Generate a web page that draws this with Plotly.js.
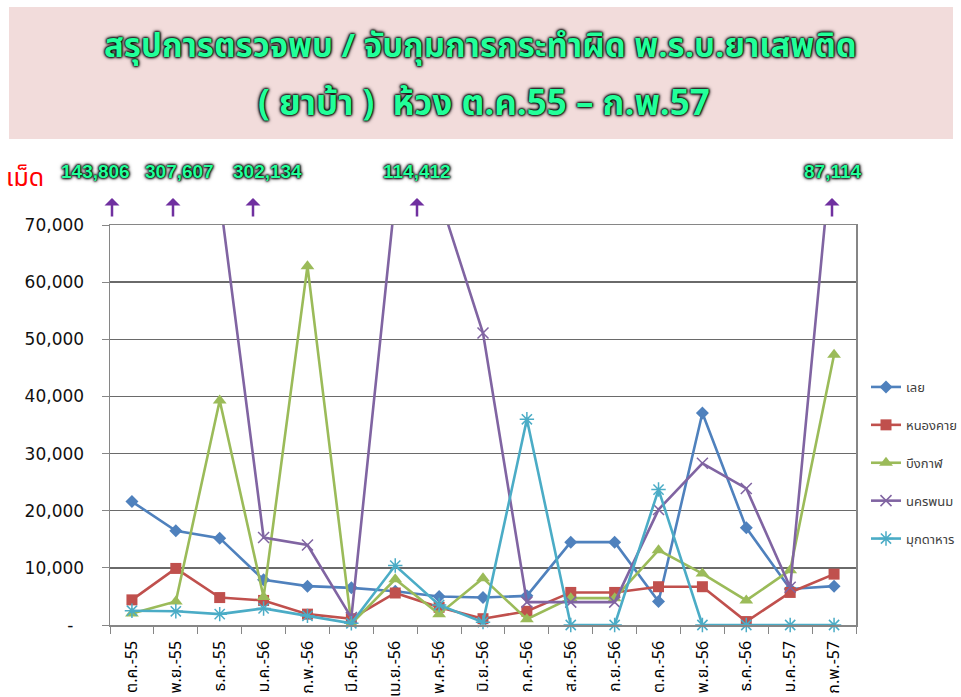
<!DOCTYPE html>
<html>
<head>
<meta charset="utf-8">
<script src="https://cdn.plot.ly/plotly-3.0.1.min.js"></script>
<style>
html,body{margin:0;padding:0;background:#fff;overflow:hidden;}
#chart{width:961px;height:697px;}
</style>
</head>
<body>
<div id="chart"></div>
<script>
// ---------- data ----------
const months = ['ต.ค.-55','พ.ย.-55','ธ.ค.-55','ม.ค.-56','ก.พ.-56','มี.ค.-56','เม.ย.-56','พ.ค.-56','มิ.ย.-56','ก.ค.-56','ส.ค.-56','ก.ย.-56','ต.ค.-56','พ.ย.-56','ธ.ค.-56','ม.ค.-57','ก.พ.-57'];
const seriesNames = ['เลย','หนองคาย','บึงกาฬ','นครพนม','มุกดาหาร'];
const loei      = [21600,16500,15200,7900,6800,6500,5900,5000,4800,5100,14500,14500,4100,37100,17000,6300,6800];
const nongkhai  = [4400,9900,4800,4300,1900,1100,5600,3100,1100,2400,5700,5700,6700,6700,600,5700,8900];
const buengkan  = [2000,4100,39300,4900,62800,200,8000,1900,8200,1000,4700,4700,13100,9000,4300,9600,47300];
const nakhonphanom = [75000,75000,75000,15300,14000,1300,75000,75000,51100,4000,4000,4000,20200,28300,23900,6600,87114];
const mukdahan  = [2500,2400,1900,2900,1600,300,10400,3500,500,36000,0,0,23700,0,0,0,0];
const yTickVals = [0,10000,20000,30000,40000,50000,60000,70000];
const yTickText = ['-\u00a0\u00a0','10,000','20,000','30,000','40,000','50,000','60,000','70,000'];
const bigLabels = ['143,806','307,607','302,134','114,412','87,114'];
const titleLine1 = 'สรุปการตรวจพบ / จับกุมการกระทำผิด พ.ร.บ.ยาเสพติด';
const titleLine2 = '( ยาบ้า )  ห้วง ต.ค.55 – ก.พ.57';
const unitLabel = 'เม็ด';

// ---------- styling ----------
const colors = ['#4f81bd','#c0504d','#9bbb59','#8064a2','#4bacc6'];
const values = [loei, nongkhai, buengkan, nakhonphanom, mukdahan];
const markers = [
  {symbol:'diamond', size:10},
  {symbol:'square', size:11},
  {symbol:'triangle-up', size:12},
  {symbol:'x-thin-open', size:11, line:{width:1.5, color:'#a08cc0'}},
  {symbol:'asterisk-open', size:12, line:{width:1.5, color:'#7ccbe0'}}
];
const thaiFont = 'Tahoma, "Noto Sans Thai", "Noto Sans", "DejaVu Sans", sans-serif';

const traces = values.map((v,i)=>({
  type:'scatter', mode:'lines+markers',
  x: months, y: v, name: seriesNames[i],
  legendgroup: 'g'+i,
  line:{color:colors[i], width:2.6},
  marker: Object.assign({color:colors[i]}, markers[i]),
  cliponaxis: i===3 ? true : false
}));

// paper-coordinate helpers (plot area: x 110..856, y 225..625)
const L=110, R=105, T=225, B=72, W=961-L-R, H=697-T-B;
const px = x => (x-L)/W;
const py = y => (697-B-y)/H;

const glow = '0 0 2px #000, 0 0 2px #000, 0 0 3px #000, 0 0 4px #000';
const labelX = [95,179,267,417,832];
const arrowX = [112,173,253,417,832];

const annotations = [];
annotations.push({xref:'paper', yref:'paper', x:px(480), y:py(47), text:titleLine1, showarrow:false,
  xanchor:'center', yanchor:'middle',
  font:{family:thaiFont, size:33, color:'#22ff99', weight:700, shadow:glow}});
annotations.push({xref:'paper', yref:'paper', x:px(484), y:py(104), text:titleLine2, showarrow:false,
  xanchor:'center', yanchor:'middle',
  font:{family:thaiFont, size:35, color:'#22ff99', weight:700, shadow:glow}});
annotations.push({xref:'paper', yref:'paper', x:px(4), y:py(178), text:unitLabel, showarrow:false,
  xanchor:'left', yanchor:'middle', font:{family:thaiFont, size:25, color:'#ff0000'}});
bigLabels.forEach((t,i)=>{
  annotations.push({xref:'paper', yref:'paper', x:px(labelX[i]), y:py(172), text:t, showarrow:false,
    xanchor:'center', yanchor:'middle',
    font:{family:'"Liberation Sans Narrow", "Arial Narrow", "Liberation Sans", sans-serif', size:19, color:'#22ff99', weight:700, shadow:glow}});
  annotations.push({xref:'paper', yref:'paper', x:px(arrowX[i]), y:py(198), text:'', showarrow:true,
    ax:0, ay:20, arrowhead:1, arrowsize:1, arrowwidth:2.5, arrowcolor:'#7030a0', standoff:0, startstandoff:0});
});

const layout = {
  width:961, height:697,
  margin:{l:L, r:R, t:T, b:B, pad:0},
  paper_bgcolor:'#ffffff', plot_bgcolor:'#ffffff',
  showlegend:true,
  legend:{xref:'container', yref:'container', x:866/961, y:(697-372)/697, xanchor:'left', yanchor:'top', tracegroupgap:18,
    font:{family:thaiFont, size:13, color:'#404040'}, bgcolor:'rgba(0,0,0,0)', itemwidth:30},
  xaxis:{type:'category', range:[-0.5,16.5], showgrid:false, showline:true, linecolor:'#868686', linewidth:1.5,
    mirror:true, ticks:'outside', ticklen:7, tickcolor:'#868686', tickson:'boundaries',
    tickangle:-90, tickfont:{family:thaiFont, size:16, color:'#000'}, ticklabelstandoff:8,
    automargin:false, zeroline:false},
  yaxis:{range:[0,70000], tickvals:yTickVals, ticktext:yTickText, showgrid:true, gridcolor:'#6a6a6a', gridwidth:1.3,
    showline:true, linecolor:'#868686', linewidth:1.5, mirror:true, ticks:'outside', ticklen:7, tickcolor:'#868686',
    tickfont:{family:'"DejaVu Sans", Tahoma, sans-serif', size:17, color:'#111'}, ticklabelstandoff:14,
    zeroline:false, automargin:false},
  shapes:[{type:'rect', xref:'paper', yref:'paper', x0:px(9), x1:px(953), y0:py(139), y1:py(7),
    fillcolor:'#f2dcdb', line:{width:0}, layer:'below'}],
  annotations: annotations
};

Plotly.newPlot('chart', traces, layout, {displayModeBar:false, staticPlot:true});
</script>
</body>
</html>
